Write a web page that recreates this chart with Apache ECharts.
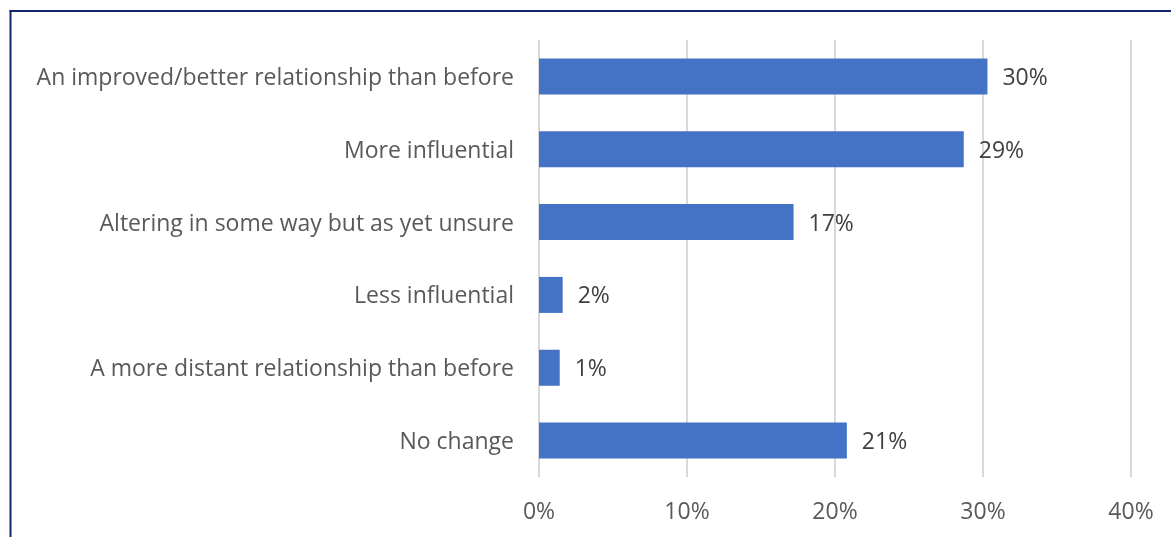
<!DOCTYPE html>
<html>
<head>
<meta charset="utf-8">
<script src="https://cdn.jsdelivr.net/npm/echarts@6/dist/echarts.min.js"></script>
<style>
html,body{margin:0;padding:0;background:#fff;}
#chart{width:1171px;height:537px;}
</style>
</head>
<body>
<div id="chart"></div>
<script>
const categories = [
  "An improved/better relationship than before",
  "More influential",
  "Altering in some way but as yet unsure",
  "Less influential",
  "A more distant relationship than before",
  "No change"
];
const values = [30.3, 28.7, 17.2, 1.6, 1.4, 20.8];
const valueLabels = ["30%", "29%", "17%", "2%", "1%", "21%"];
const tickLabels = ["0%", "10%", "20%", "30%", "40%"];

const chart = echarts.init(document.getElementById('chart'));
const font = '"Open Sans", sans-serif';
chart.setOption({
  animation: false,
  graphic: [
    {type: 'line', shape: {x1: 10.5, y1: 10, x2: 10.5, y2: 537}, style: {stroke: '#10286b', lineWidth: 2}},
    {type: 'line', shape: {x1: 9.5, y1: 11, x2: 1171, y2: 11}, style: {stroke: '#10286b', lineWidth: 2}}
  ],
  grid: {left: 539, right: 40, top: 40, height: 437, containLabel: false},
  xAxis: {
    type: 'value', min: 0, max: 40, interval: 10,
    axisLine: {show: false}, axisTick: {show: false},
    splitLine: {lineStyle: {color: '#d9d9d9', width: 2}},
    axisLabel: {
      margin: 24, color: '#595959', fontSize: 23, fontFamily: font,
      formatter: function (v) { return tickLabels[Math.round(v / 10)]; }
    }
  },
  yAxis: {
    type: 'category', data: categories, inverse: true,
    axisLine: {show: false}, axisTick: {show: false},
    axisLabel: {
      margin: 25, color: '#595959', fontSize: 23, fontFamily: font,
      formatter: function (v) { return '{a|' + v + '}'; },
      rich: {a: {color: '#595959', fontSize: 23, fontFamily: font, padding: [4, 0, 0, 0]}}
    }
  },
  series: [{
    type: 'bar', data: values, barWidth: 36,
    itemStyle: {color: '#4472c4'},
    label: {
      show: true, position: 'right', distance: 15, offset: [0, 2], color: '#404040', fontSize: 23, fontFamily: font,
      formatter: function (p) { return valueLabels[p.dataIndex]; }
    }
  }]
});
</script>
</body>
</html>
